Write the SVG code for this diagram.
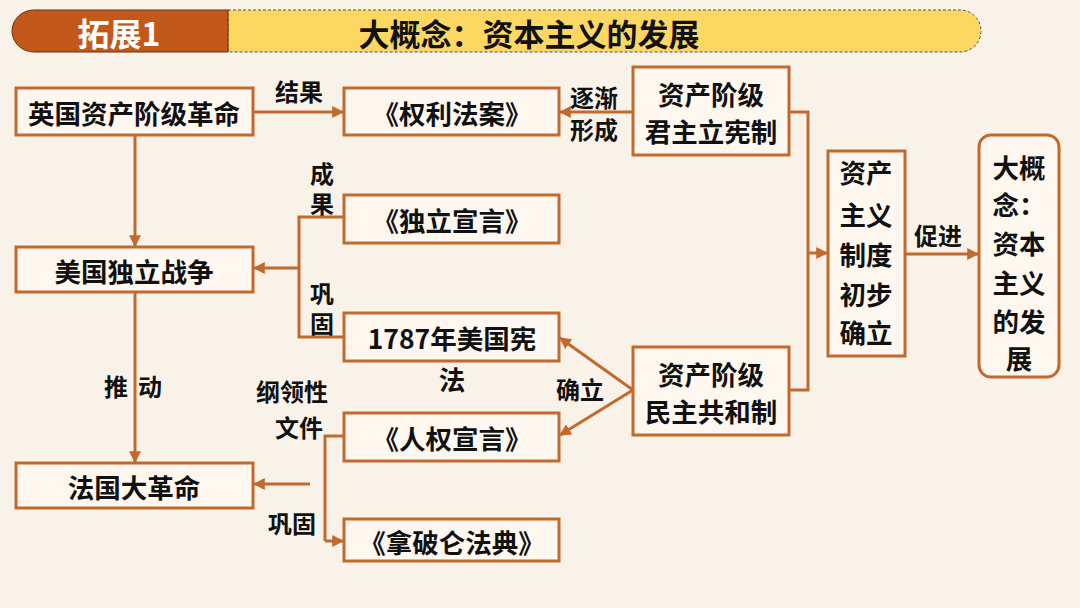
<svg xmlns="http://www.w3.org/2000/svg" width="1080" height="608" viewBox="0 0 1080 608">
<defs>
<marker id="ah" viewBox="0 0 10 10" refX="9" refY="5" markerWidth="4" markerHeight="4" orient="auto-start-reverse" markerUnits="strokeWidth">
<path d="M0,0 L10,5 L0,10 z" fill="#c26a2e"/>
</marker>
<style>
.bx{fill:#fdf7ef;stroke:#c26a2e;stroke-width:3}
.t{font-family:"Noto Sans CJK SC","Noto Sans",sans-serif;font-weight:bold;fill:#111;text-anchor:middle;dominant-baseline:central}
.n{font-size:26.5px}
.l{font-size:24px}
.v{writing-mode:vertical-rl;letter-spacing:6px;font-size:24px}
.c{fill:none;stroke:#c26a2e;stroke-width:3}
.ca{fill:none;stroke:#c26a2e;stroke-width:3;marker-end:url(#ah)}
</style>
</defs>
<rect width="1080" height="608" fill="#f9f2e9"/>
<g id="header">
<path d="M228,10 H960 A21,21 0 0 1 960,52 H228 Z" fill="#fcd762" stroke="#555" stroke-width="1" stroke-dasharray="3,2"/>
<path d="M228,10 H34 A22,21 0 0 0 34,52 H228 Z" fill="#c2591b" stroke="#6b2f0c" stroke-width="1"/>
<text class="t" x="119" y="32" style="font-size:32px;fill:#fff">拓展1</text>
<text class="t" x="529" y="32" style="font-size:31px">大概念：资本主义的发展</text>
</g>
<g id="connectors">
<line class="ca" x1="253" y1="112" x2="343" y2="112"/>
<line class="ca" x1="633" y1="112" x2="560" y2="112"/>
<line class="ca" x1="135" y1="136" x2="135" y2="246"/>
<polyline class="c" points="344,217 299,217 299,337 344,337"/>
<line class="ca" x1="299" y1="268" x2="254" y2="268"/>
<line class="ca" x1="135" y1="292" x2="135" y2="462"/>
<polyline class="c" points="344,436 325,436 325,541"/>
<line class="ca" x1="325" y1="541" x2="343" y2="541"/>
<line class="ca" x1="310" y1="484" x2="254" y2="484"/>
<line class="ca" x1="633" y1="390" x2="560" y2="338"/>
<line class="ca" x1="633" y1="390" x2="560" y2="435"/>
<polyline class="c" points="789,112 808,112 808,390 789,390"/>
<line class="ca" x1="808" y1="253" x2="827" y2="253"/>
<line class="ca" x1="905" y1="254" x2="978" y2="254"/>
<text class="t l" x="299" y="90">结果</text>
<text class="t l" x="594" y="96">逐渐</text>
<text class="t l" x="594" y="128">形成</text>
<text class="t v" x="322" y="162" style="text-anchor:start">成果</text>
<text class="t v" x="322" y="282" style="text-anchor:start">巩固</text>
<text class="t l" x="116" y="385">推</text>
<text class="t l" x="150" y="385">动</text>
<text class="t l" x="292" y="390">纲领性</text>
<text class="t l" x="299" y="426">文件</text>
<text class="t l" x="292" y="522">巩固</text>
<text class="t l" x="580" y="388">确立</text>
<text class="t l" x="938" y="234">促进</text>
</g>
<g id="n-england"><rect class="bx" x="16" y="88" width="237" height="47"/><text class="t n" x="134" y="112">英国资产阶级革命</text></g>
<g id="n-usa"><rect class="bx" x="16" y="247" width="237" height="45"/><text class="t n" x="134" y="270">美国独立战争</text></g>
<g id="n-france"><rect class="bx" x="16" y="463" width="237" height="45"/><text class="t n" x="134" y="486">法国大革命</text></g>
<g id="n-billofrights"><rect class="bx" x="344" y="88" width="215" height="47"/><text class="t n" x="452" y="112">《权利法案》</text></g>
<g id="n-declaration"><rect class="bx" x="344" y="195" width="215" height="48"/><text class="t n" x="452" y="219">《独立宣言》</text></g>
<g id="n-constitution"><rect class="bx" x="344" y="313" width="215" height="48"/><text class="t n" x="452" y="337">1787年美国宪</text><text class="t n" x="452" y="378">法</text></g>
<g id="n-rights"><rect class="bx" x="344" y="413" width="215" height="48"/><text class="t n" x="452" y="437">《人权宣言》</text></g>
<g id="n-code"><rect class="bx" x="344" y="519" width="215" height="42"/><text class="t n" x="452" y="541">《拿破仑法典》</text></g>
<g id="n-monarchy"><rect class="bx" x="633" y="67" width="156" height="88"/><text class="t n" x="711" y="93">资产阶级</text><text class="t n" x="711" y="130">君主立宪制</text></g>
<g id="n-republic"><rect class="bx" x="633" y="347" width="156" height="88"/><text class="t n" x="711" y="373">资产阶级</text><text class="t n" x="711" y="410">民主共和制</text></g>
<g id="n-system"><rect class="bx" x="828" y="151" width="77" height="205"/>
<text class="t n" x="866" y="171">资产</text><text class="t n" x="866" y="213">主义</text><text class="t n" x="866" y="253">制度</text><text class="t n" x="866" y="293">初步</text><text class="t n" x="866" y="331">确立</text></g>
<g id="n-concept"><rect class="bx" x="979" y="135" width="80" height="242" rx="12"/>
<text class="t n" x="1019" y="166">大概</text><text class="t n" x="1019" y="203">念：</text><text class="t n" x="1019" y="242">资本</text><text class="t n" x="1019" y="281">主义</text><text class="t n" x="1019" y="320">的发</text><text class="t n" x="1019" y="357">展</text></g>
</svg>
